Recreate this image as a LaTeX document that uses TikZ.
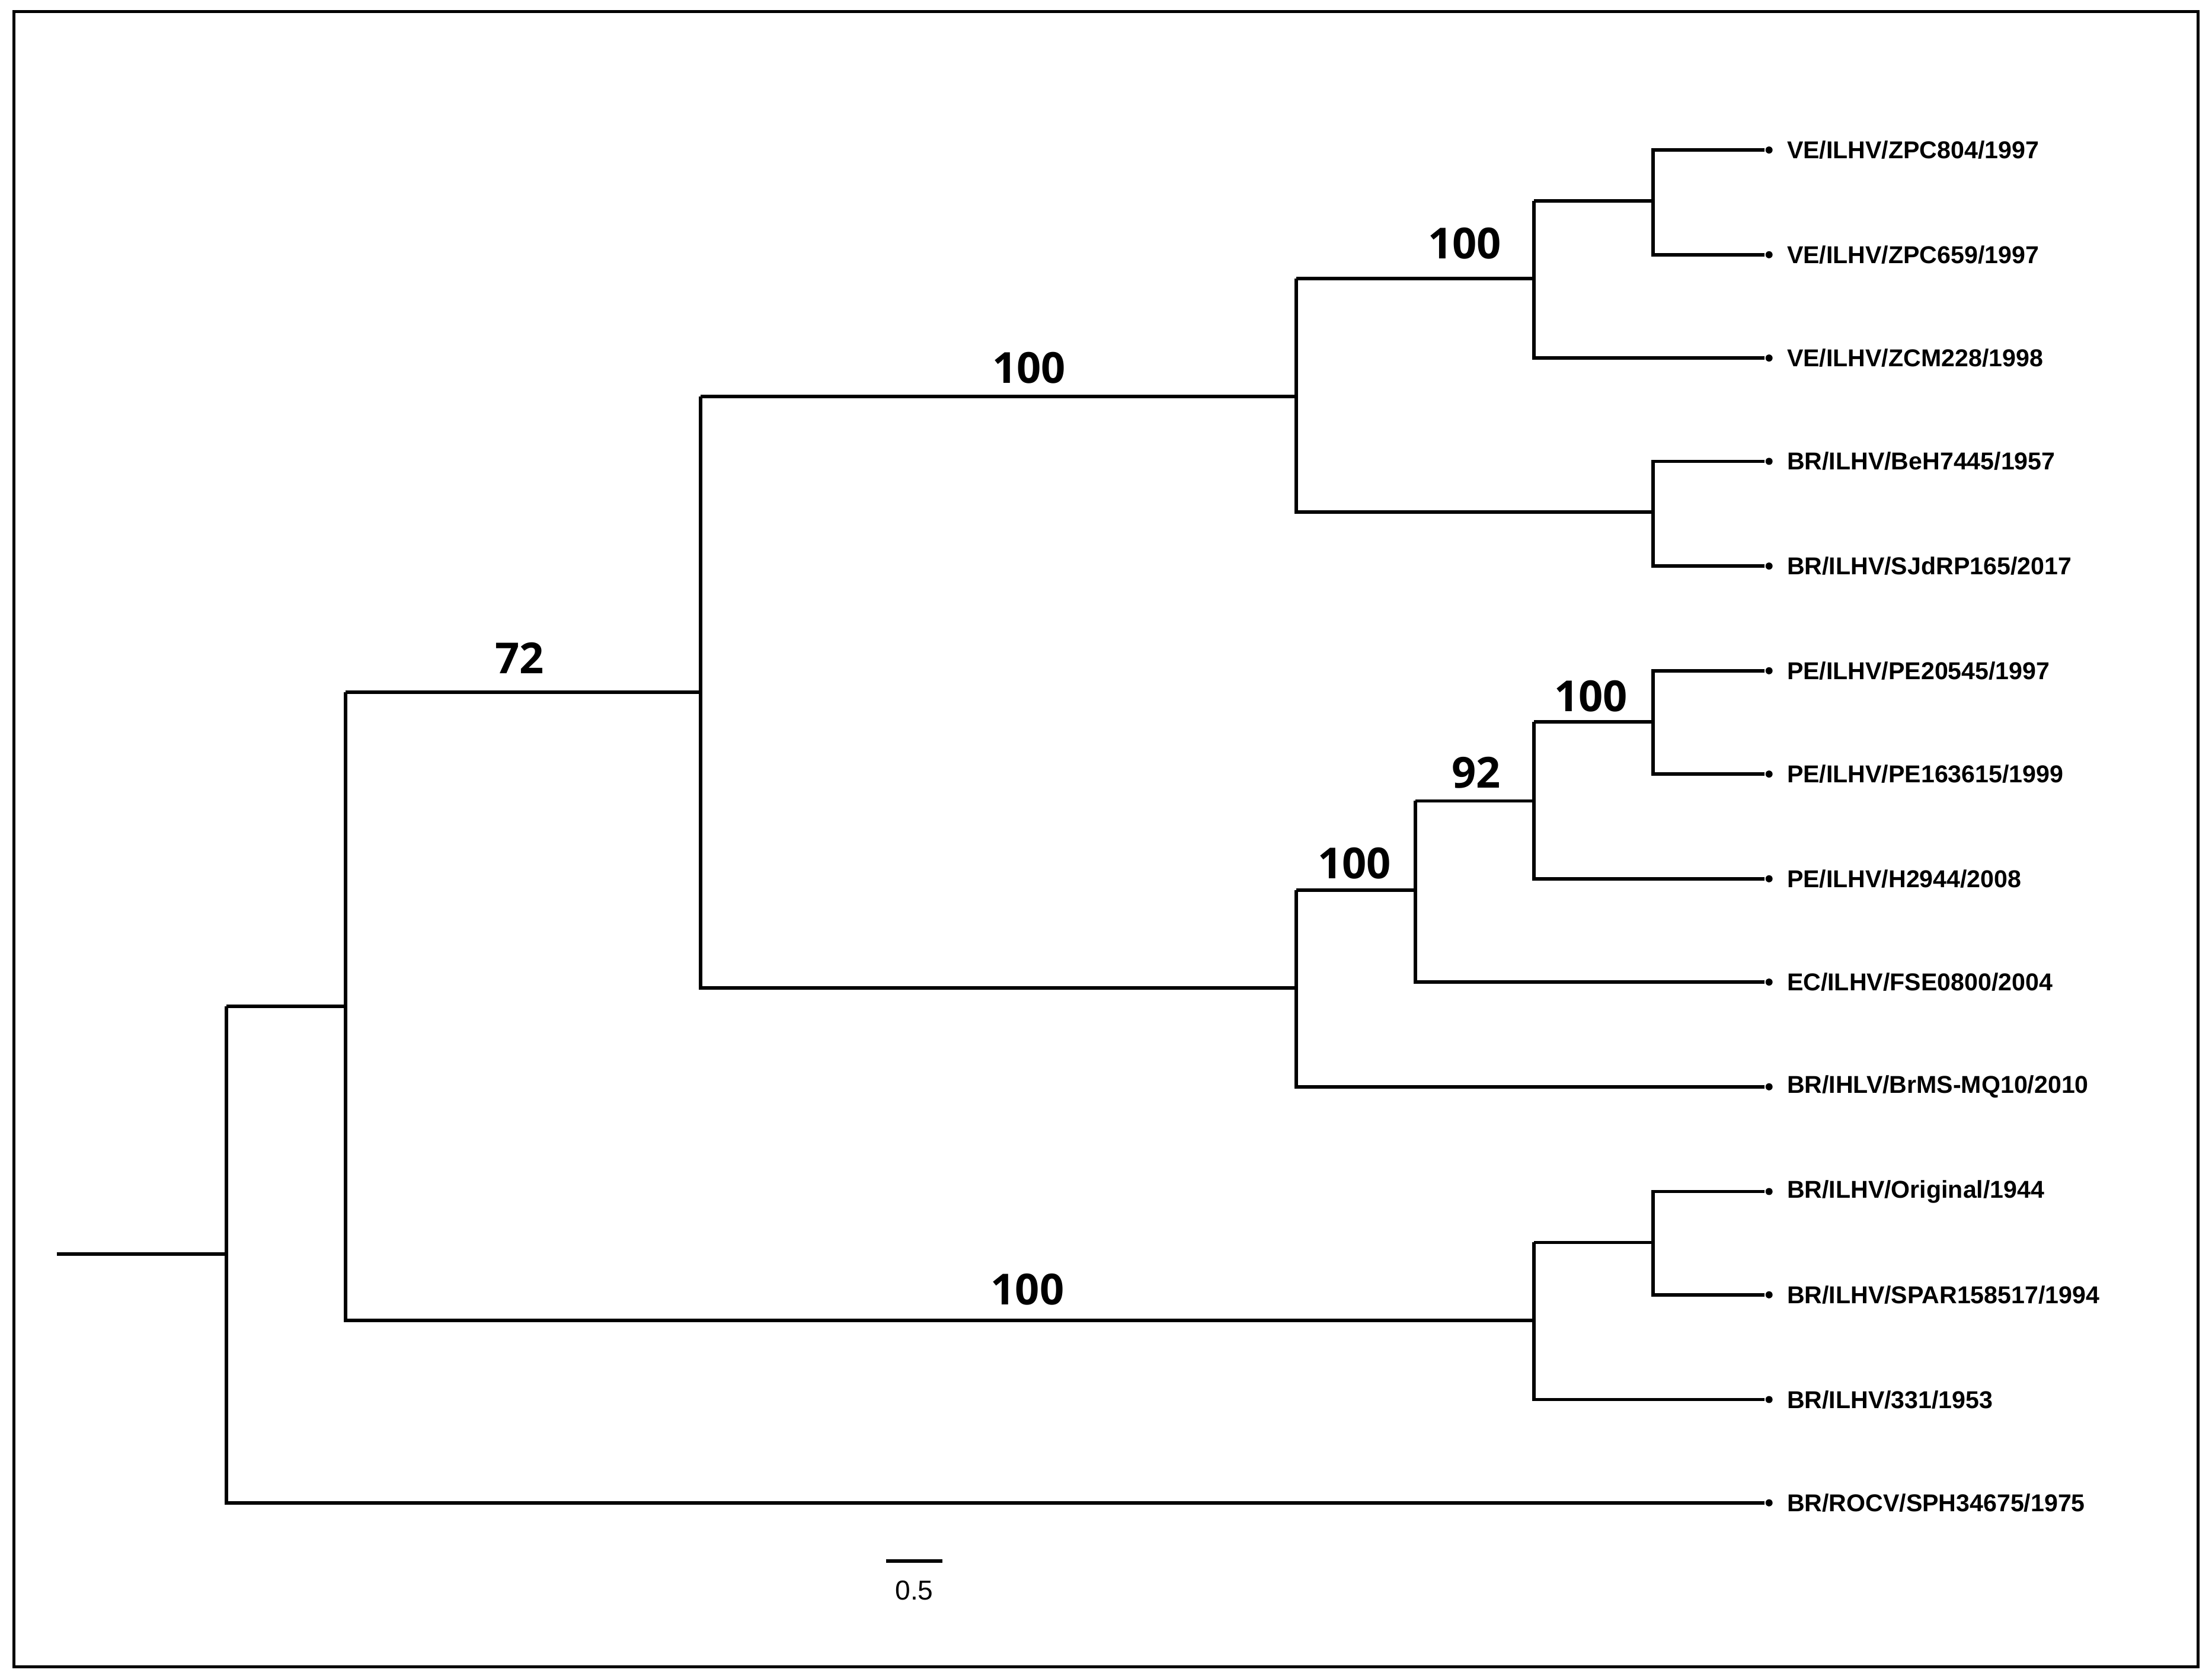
\documentclass[tikz,border=0pt]{standalone}
\usepackage{fontspec}
\setmainfont{Liberation Sans}
\newfontfamily\bsfont{Open Sans}
\begin{document}
\begin{tikzpicture}[x=0.1mm,y=-0.1mm,
  br/.style={line width=0.7pt},
  leaf/.style={anchor=west,inner sep=0pt,font=\bfseries\fontsize{4.9}{5}\selectfont},
  bs/.style={inner sep=0pt,font=\bsfont\bfseries\fontsize{8.6}{9}\selectfont},
  dotc/.style={circle,fill,inner sep=0pt,minimum size=0.5mm}]
\useasboundingbox (0,0) rectangle (1563,1184);
\draw[line width=0.6pt] (10,8) rectangle (1553,1178);
% internal node coordinates
\coordinate (r) at (40,886);
\coordinate (n1) at (160,886);
\coordinate (n2) at (244,711);
\coordinate (n3) at (495,489);
\coordinate (n4) at (916,280);
\coordinate (n5) at (1084,197);
\coordinate (n6) at (1168,142);
\coordinate (n7) at (1168,362);
\coordinate (n8) at (916,698);
\coordinate (n9) at (1000,629);
\coordinate (n10) at (1084,566);
\coordinate (n11) at (1168,510);
\coordinate (n12) at (1084,933);
\coordinate (n13) at (1168,878);
% leaves
\foreach \n/\y/\t in {l1/106/VE\slash ILHV\slash ZPC804\slash 1997, l2/180/VE\slash ILHV\slash ZPC659\slash 1997,
 l3/253/VE\slash ILHV\slash ZCM228\slash 1998, l4/326/BR\slash ILHV\slash BeH7445\slash 1957,
 l5/400/BR\slash ILHV\slash SJdRP165\slash 2017, l6/474/PE\slash ILHV\slash PE20545\slash 1997,
 l7/547/PE\slash ILHV\slash PE163615\slash 1999, l8/621/PE\slash ILHV\slash H2944\slash 2008,
 l9/694/EC\slash ILHV\slash FSE0800\slash 2004, l10/768/BR\slash IHLV\slash BrMS-MQ10\slash 2010,
 l11/842/BR\slash ILHV\slash Original\slash 1944, l12/915/BR\slash ILHV\slash SPAR158517\slash 1994,
 l13/989/BR\slash ILHV\slash 331\slash 1953, l14/1062/BR\slash ROCV\slash SPH34675\slash 1975}{
  \node[dotc] (\n) at (1250,\y) {};
  \node[leaf] at (1262,\y) {\t};
}
\draw[br] (r) -- (n1);
\draw[br] (n1 |- n2) -- (n1 |- l14) -- (l14);
\draw[br] (n2) -- (n2 -| n1);
\draw[br] (n2 |- n3) -- (n2 |- n12) -- (n12);
\draw[br] (n2 |- n3) -- (n3);
\draw[br] (n3 |- n4) -- (n3 |- n8) -- (n8);
\draw[br] (n3 |- n4) -- (n4);
\draw[br] (n4 |- n5) -- (n4 |- n7) -- (n7);
\draw[br] (n4 |- n5) -- (n5);
\draw[br] (n5 |- n6) -- (n5 |- l3) -- (l3);
\draw[br] (n5 |- n6) -- (n6);
\draw[br] (l1) -- (n6 |- l1) -- (n6 |- l2) -- (l2);
\draw[br] (l4) -- (n7 |- l4) -- (n7 |- l5) -- (l5);
\draw[br] (n8 |- n9) -- (n8 |- l10) -- (l10);
\draw[br] (n8 |- n9) -- (n9);
\draw[br] (n9 |- n10) -- (n9 |- l9) -- (l9);
\draw[br] (n9 |- n10) -- (n10);
\draw[br] (n10 |- n11) -- (n10 |- l8) -- (l8);
\draw[br] (n10 |- n11) -- (n11);
\draw[br] (l6) -- (n11 |- l6) -- (n11 |- l7) -- (l7);
\draw[br] (n12 |- n13) -- (n12 |- l13) -- (l13);
\draw[br] (n12 |- n13) -- (n13);
\draw[br] (l11) -- (n13 |- l11) -- (n13 |- l12) -- (l12);
% bootstrap
\node[bs] at (367,465) {72};
\node[bs] at (727,260) {100};
\node[bs] at (1035,172) {100};
\node[bs] at (957,610) {100};
\node[bs] at (1043,546) {92};
\node[bs] at (1124,492) {100};
\node[bs] at (726,911) {100};
% scale bar
\coordinate (s1) at (626,1103);
\coordinate (s2) at (666,1103);
\draw[br] (s1) -- (s2);
\node[inner sep=0pt,font=\fontsize{5.5}{6}\selectfont] at (646,1124) {0.5};
\end{tikzpicture}
\end{document}
